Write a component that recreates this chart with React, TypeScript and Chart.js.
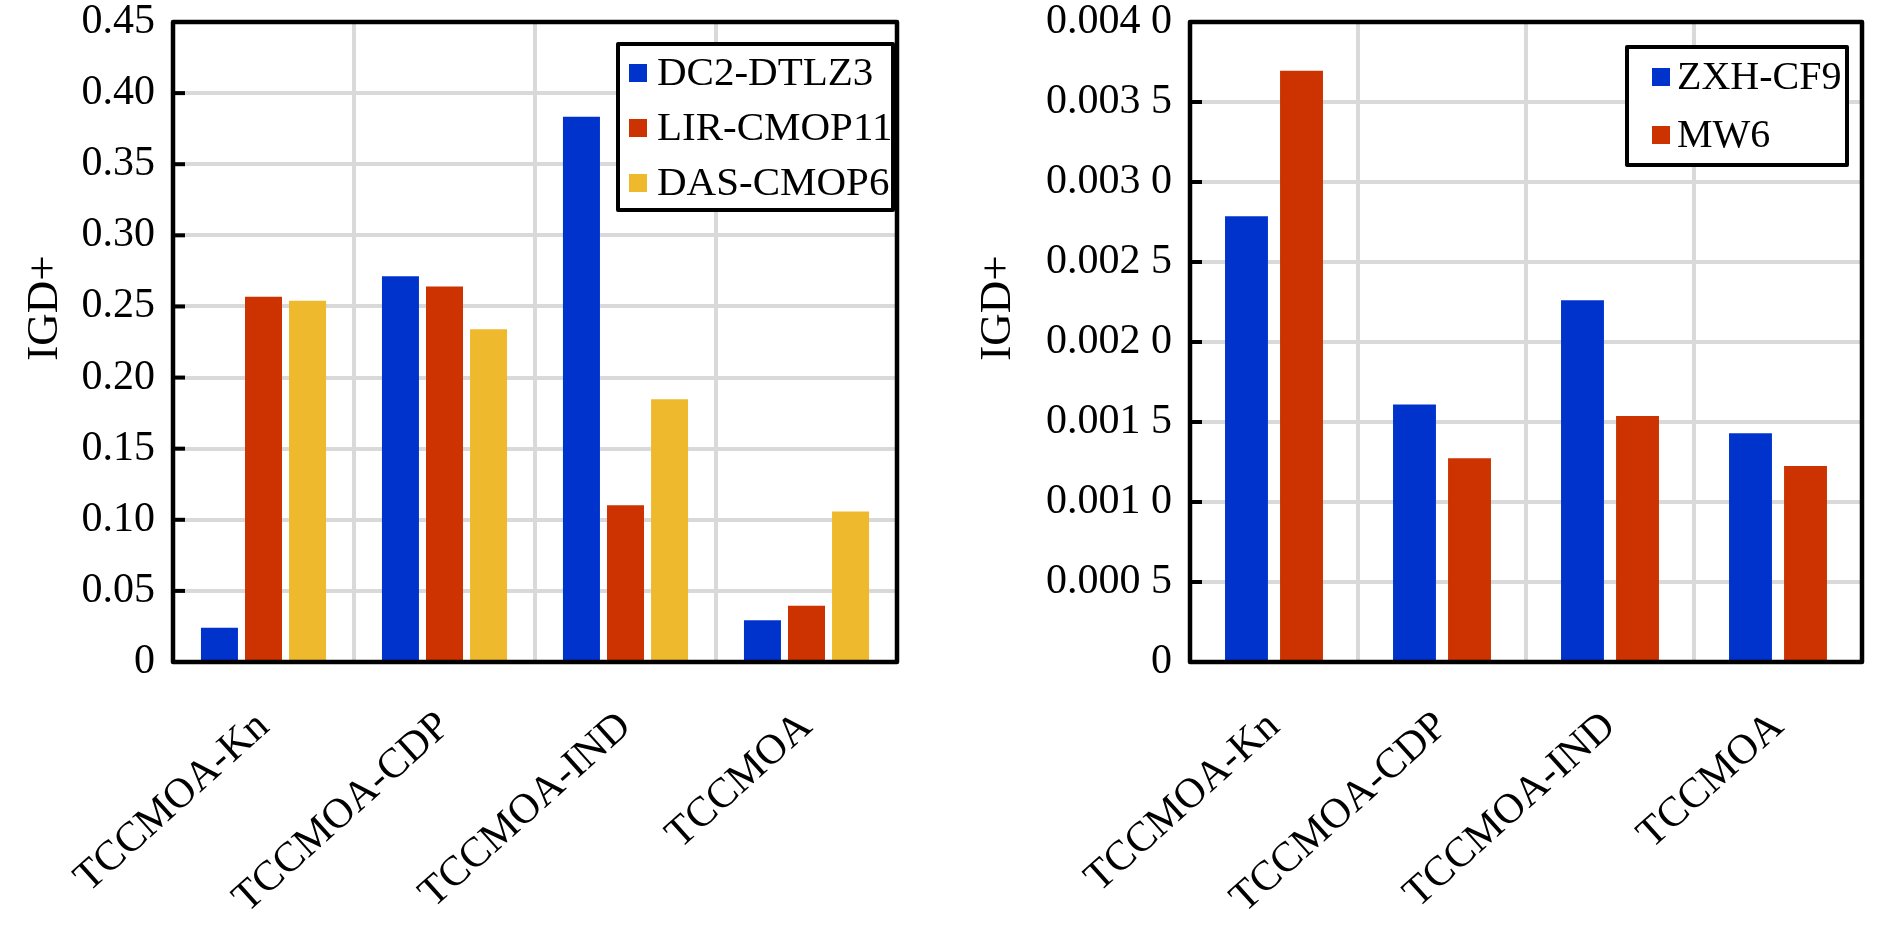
import React, { useEffect, useRef } from "react";
import { Chart, registerables } from "chart.js";

Chart.register(...registerables);

// ---------- data ----------
const CATEGORIES = ["TCCMOA-Kn", "TCCMOA-CDP", "TCCMOA-IND", "TCCMOA"];

const LEFT_SERIES_NAMES = ["DC2-DTLZ3", "LIR-CMOP11", "DAS-CMOP6"];
const DC2_DTLZ3 = [0.0241, 0.2712, 0.3833, 0.0294];
const LIR_CMOP11 = [0.2568, 0.264, 0.1102, 0.0395];
const DAS_CMOP6 = [0.254, 0.2339, 0.1848, 0.1058];
const LEFT_TICK_LABELS = ["0", "0.05", "0.10", "0.15", "0.20", "0.25", "0.30", "0.35", "0.40", "0.45"];

const RIGHT_SERIES_NAMES = ["ZXH-CF9", "MW6"];
const ZXH_CF9 = [0.002786, 0.00161, 0.002261, 0.001429];
const MW6 = [0.003696, 0.001273, 0.001538, 0.001225];
const RIGHT_TICK_LABELS = ["0", "0.000 5", "0.001 0", "0.001 5", "0.002 0", "0.002 5", "0.003 0", "0.003 5", "0.004 0"];

const Y_TITLE = "IGD+";

// ---------- styles ----------
const FONT_FAMILY = "'Liberation Serif', 'Times New Roman', serif";
const BLUE = "#0033cc";
const RED = "#cc3300";
const YELLOW = "#eeb92c";
const GRID = "#d9d9d9";

const decorPlugin = {
  id: "decor",
  afterDraw(chart: any, _args: any, opts: any) {
    const ctx = chart.ctx as CanvasRenderingContext2D;
    const { left, right, top, bottom } = chart.chartArea;
    const yScale = chart.scales.y;
    ctx.save();
    // inner ticks on the left axis
    ctx.strokeStyle = "#000";
    ctx.lineWidth = 4;
    ctx.lineCap = "butt";
    yScale.ticks.forEach((t: any) => {
      const py = yScale.getPixelForValue(t.value);
      if (Math.abs(py - bottom) < 2 || Math.abs(py - top) < 2) return;
      ctx.beginPath();
      ctx.moveTo(left, py);
      ctx.lineTo(left + 12, py);
      ctx.stroke();
    });
    // frame
    ctx.lineWidth = 4.5;
    ctx.lineJoin = "round";
    ctx.strokeRect(left, top, right - left, bottom - top);

    // y axis title
    const tt = opts.title;
    ctx.save();
    ctx.translate(tt.x, tt.y);
    ctx.rotate(-Math.PI / 2);
    ctx.fillStyle = "#000";
    ctx.font = `${tt.fontSize}px ${FONT_FAMILY}`;
    ctx.textAlign = "center";
    ctx.textBaseline = "middle";
    ctx.fillText(tt.text, 0, 0);
    ctx.restore();

    // legend box
    const lg = opts.legend;
    ctx.fillStyle = "#fff";
    ctx.fillRect(lg.x, lg.y, lg.w, lg.h);
    ctx.lineWidth = 4;
    ctx.strokeStyle = "#000";
    ctx.strokeRect(lg.x, lg.y, lg.w, lg.h);
    ctx.font = `${lg.fontSize}px ${FONT_FAMILY}`;
    ctx.textBaseline = "middle";
    ctx.textAlign = "left";
    chart.data.datasets.forEach((ds: any, i: number) => {
      const cy = lg.firstRowY + i * lg.rowH;
      ctx.fillStyle = ds.backgroundColor;
      ctx.fillRect(lg.swatchX, cy - 9, 18, 18);
      ctx.fillStyle = "#000";
      ctx.fillText(ds.label, lg.textX, cy + 1);
    });
    ctx.restore();
  },
};

function makeConfig(p: any) {
  return {
    type: "bar",
    data: {
      labels: CATEGORIES,
      datasets: p.series.map((s: any) => ({
        label: s.label,
        data: s.data,
        backgroundColor: s.color,
        borderWidth: 0,
        categoryPercentage: p.catPct,
        barPercentage: p.barPct,
      })),
    },
    options: {
      animation: false,
      responsive: false,
      devicePixelRatio: 1,
      layout: { padding: { left: 0, right: p.padRight, top: p.padTop, bottom: 0 } },
      plugins: {
        legend: { display: false },
        tooltip: { enabled: false },
        decor: { legend: p.legend, title: { text: Y_TITLE, ...p.title } },
      },
      scales: {
        x: {
          offset: true,
          grid: { color: GRID, lineWidth: 4, drawTicks: false, offset: true },
          border: { display: false },
          ticks: {
            font: { family: FONT_FAMILY, size: 42 },
            color: "#000",
            maxRotation: 42,
            minRotation: 42,
            autoSkip: false,
            padding: p.xPad,
            labelOffset: p.xLabelOffset,
          },
          afterFit: (s: any) => {
            s.height = p.xHeight;
            s.paddingLeft = 0;
            s.paddingRight = 0;
          },
        },
        y: {
          min: 0,
          max: p.yMax,
          grid: { color: GRID, lineWidth: 4, drawTicks: false },
          border: { display: false },
          ticks: {
            stepSize: p.yStep,
            font: { family: FONT_FAMILY, size: 42 },
            color: "#000",
            padding: 18,
            callback: (v: number) => p.tickLabels[Math.round(v / p.yStep)] ?? "",
          },
          afterFit: (s: any) => {
            s.width = p.yWidth;
            s.paddingTop = 0;
            s.paddingBottom = 0;
          },
        },
      },
    },
    plugins: [decorPlugin],
  };
}

function BarPanel({ cfg, left }: { cfg: any; left: number }) {
  const ref = useRef<HTMLCanvasElement | null>(null);
  useEffect(() => {
    if (!ref.current) return;
    const chart = new Chart(ref.current, makeConfig(cfg) as any);
    return () => chart.destroy();
  }, [cfg]);
  return (
    <canvas
      ref={ref}
      width={945}
      height={927}
      style={{ position: "absolute", left, top: 0, width: 945, height: 927, display: "block" }}
    />
  );
}

const LEFT_CFG = {
  series: [
    { label: LEFT_SERIES_NAMES[0], data: DC2_DTLZ3, color: BLUE },
    { label: LEFT_SERIES_NAMES[1], data: LIR_CMOP11, color: RED },
    { label: LEFT_SERIES_NAMES[2], data: DAS_CMOP6, color: YELLOW },
  ],
  catPct: 0.73,
  barPct: 0.84,
  padRight: 48,
  padTop: 22,
  xHeight: 265,
  xPad: 40,
  xLabelOffset: 0,
  yWidth: 173,
  yMax: 0.45,
  yStep: 0.05,
  tickLabels: LEFT_TICK_LABELS,
  title: { x: 45, y: 308, fontSize: 45 },
  legend: { x: 618, y: 44, w: 275, h: 166, swatchX: 629, textX: 657, firstRowY: 73, rowH: 55, fontSize: 41 },
};

const RIGHT_CFG = {
  series: [
    { label: RIGHT_SERIES_NAMES[0], data: ZXH_CF9, color: BLUE },
    { label: RIGHT_SERIES_NAMES[1], data: MW6, color: RED },
  ],
  catPct: 0.655,
  barPct: 0.78,
  padRight: 28,
  padTop: 22,
  xHeight: 265,
  xPad: 40,
  xLabelOffset: 0,
  yWidth: 245,
  yMax: 0.004,
  yStep: 0.0005,
  tickLabels: RIGHT_TICK_LABELS,
  title: { x: 53, y: 308, fontSize: 45 },
  legend: { x: 682, y: 47, w: 220, h: 118, swatchX: 707, textX: 732, firstRowY: 77, rowH: 58, fontSize: 40 },
};

export default function App() {
  return (
    <div style={{ position: "fixed", left: 0, top: 0, width: 1890, height: 927, background: "#fff", overflow: "hidden" }}>
      <BarPanel cfg={LEFT_CFG} left={0} />
      <BarPanel cfg={RIGHT_CFG} left={945} />
    </div>
  );
}
